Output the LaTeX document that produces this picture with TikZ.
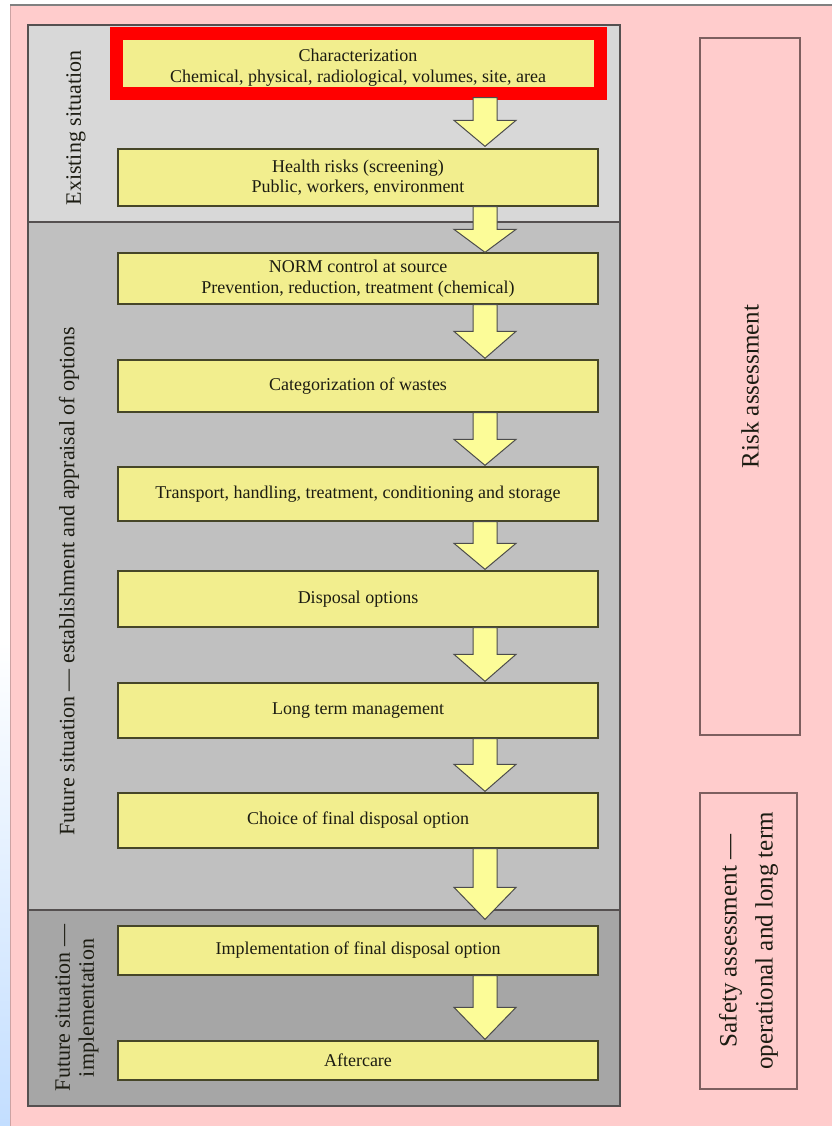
\documentclass[tikz,border=0pt]{standalone}
\usepackage{fontspec}
\setmainfont{Liberation Serif}
\usetikzlibrary{calc}
\definecolor{pinkbg}{RGB}{255,204,204}
\definecolor{secA}{RGB}{216,216,216}
\definecolor{secB}{RGB}{192,192,192}
\definecolor{secC}{RGB}{166,166,166}
\definecolor{boxfill}{RGB}{242,238,142}
\definecolor{arrfill}{RGB}{252,252,152}
\definecolor{boxline}{RGB}{70,70,40}
\definecolor{txt}{RGB}{28,28,18}
\definecolor{frameline}{RGB}{125,95,95}
\definecolor{stripblue}{RGB}{195,222,255}
\definecolor{seclinecol}{RGB}{85,80,80}
\newcommand\barrow[4]{%
  \draw[blockarrow] ($(#1.south -| ax)+(-12,0)$) -- ($(#1.south -| ax)+(12,0)$)
    -- ($(#2.north -| ax)+(12,-#3-#4)$) -- ($(#2.north -| ax)+(31,-#3-#4)$)
    -- ($(#2.north -| ax)+(0,-#4)$) -- ($(#2.north -| ax)+(-31,-#3-#4)$)
    -- ($(#2.north -| ax)+(-12,-#3-#4)$) -- cycle;}
\begin{document}
\begin{tikzpicture}[x=1pt,y=-1pt,
  stepbox/.style={draw=boxline, line width=1.3pt, fill=boxfill, minimum width=480pt,
    inner sep=0pt, align=center, text=txt, font=\fontsize{18}{20.5}\selectfont},
  section/.style={draw=seclinecol, line width=1.6pt, minimum width=592pt, inner sep=0pt},
  sidelabel/.style={rotate=90, text=txt, align=center, inner sep=0pt,
    font=\fontsize{22}{24}\selectfont},
  assess/.style={draw=frameline, line width=1.3pt, fill=pinkbg, inner sep=0pt,
    rotate=90, align=center, text=txt, font=\fontsize{25}{36}\selectfont},
  blockarrow/.style={draw=black!70, line width=1pt, fill=arrfill, line join=miter},
]
\useasboundingbox (0,0) rectangle (832,1126);
% page background
\fill[white] (0,0) rectangle (832,1126);
\shade[top color=white, bottom color=stripblue] (0,640) rectangle (10,1126);
\fill[pinkbg] (10,6) rectangle (832,1126);
\draw[black!50, line width=2pt] (10,5) -- (832,5);
\draw[pinkbg!80!black, line width=0.6pt] (10.3,6) -- (10.3,1126);

% sections
\node[section, fill=secA, minimum height=197pt] (s1) at (324,123.5) {};
\node[section, fill=secB, minimum height=688pt] (s2) at (324,566) {};
\node[section, fill=secC, minimum height=196pt] (s3) at (324,1008) {};

\node[sidelabel] (l1) at (76,128) {Existing situation};
\node[sidelabel] (l2) at (69,581) {Future situation --- establishment and appraisal of options};
\node[sidelabel] (l3) at (77,1008) {Future situation ---\\implementation};

% steps
\node[stepbox, minimum height=59pt] (c1) at (358,67.5) {Characterization\\Chemical, physical, radiological, volumes, site, area};
\node[stepbox, minimum height=57pt] (c2) at (358,177.5) {Health risks (screening)\\Public, workers, environment};
\node[stepbox, minimum height=51pt] (c3) at (358,278.5) {NORM control at source\\Prevention, reduction, treatment (chemical)};
\node[stepbox, minimum height=52pt] (c4) at (358,386) {Categorization of wastes};
\node[stepbox, minimum height=54pt] (c5) at (358,494) {Transport, handling, treatment, conditioning and storage};
\node[stepbox, minimum height=56pt] (c6) at (358,599) {Disposal options};
\node[stepbox, minimum height=55pt] (c7) at (358,710.5) {Long term management};
\node[stepbox, minimum height=55pt] (c8) at (358,820.5) {Choice of final disposal option};
\node[stepbox, minimum height=49pt] (c9) at (358,950.5) {Implementation of final disposal option};
\node[stepbox, minimum height=39pt] (c10) at (358,1060.5) {Aftercare};

% highlight frame
\node[draw=red, line width=13pt, minimum width=484pt, minimum height=60.5pt, inner sep=0pt] (hl) at (358.5,63.75) {};

% arrows
\coordinate (ax) at (485,0);
\barrow{c1}{c2}{26}{2}
\barrow{c2}{c3}{23}{0}
\barrow{c3}{c4}{27}{1}
\barrow{c4}{c5}{26}{1}
\barrow{c5}{c6}{26}{1}
\barrow{c6}{c7}{27}{1}
\barrow{c7}{c8}{27}{1}
\barrow{c8}{c9}{32}{6}
\barrow{c9}{c10}{32}{1}

% assessment boxes
\node[assess, minimum width=697pt, minimum height=100pt] (risk) at (750,386.5) {Risk assessment};
\node[assess, minimum width=296pt, minimum height=97pt] (safety) at (748.5,941) {Safety assessment ---\\operational and long term};
\end{tikzpicture}
\end{document}
